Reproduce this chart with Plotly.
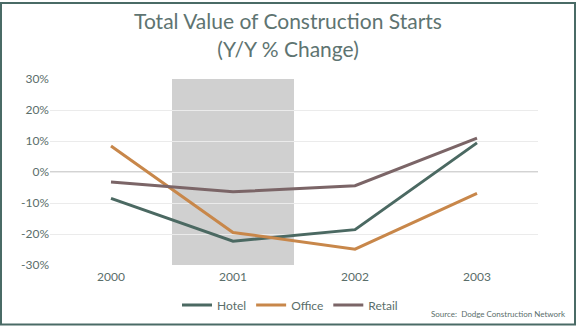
import plotly.graph_objects as go

years = ["2000", "2001", "2002", "2003"]
hotel = [-8.5, -22.3, -18.6, 9.4]
office = [8.4, -19.5, -24.9, -6.9]
retail = [-3.2, -6.4, -4.4, 10.9]
ytick_vals = [-30, -20, -10, 0, 10, 20, 30]
ytick_text = ["-30%", "-20%", "-10%", "0%", "10%", "20%", "30%"]
recession_start, recession_end = 0.5, 1.5

W, H = 576, 332
ml, mr, mt, mb = 50, 38, 79, 62
pw, ph = W - ml - mr, H - mt - mb

fig = go.Figure()
series = [("Hotel", hotel, "#4B6962"), ("Office", office, "#C8874A"), ("Retail", retail, "#7B6567")]
for name, vals, col in series:
    fig.add_trace(go.Scatter(x=years, y=vals, mode="lines", name=name,
                             line=dict(color=col, width=3)))

fig.add_shape(type="rect", xref="x", yref="y", x0=recession_start, x1=recession_end,
              y0=-30, y1=30, fillcolor="#D0D0D0", line=dict(width=0), layer="below")
fig.add_shape(type="line", xref="paper", yref="y", x0=0, x1=1, y0=0, y1=0,
              line=dict(color="#A6A6A6", width=1), layer="below")
# outer border
fig.add_shape(type="rect", xref="paper", yref="paper",
              x0=-(ml - 1) / pw, x1=1 + (mr - 1) / pw,
              y0=-(mb - 1) / ph, y1=1 + (mt - 1) / ph,
              line=dict(color="#4A6B66", width=2), fillcolor="rgba(0,0,0,0)")

fig.update_layout(
    width=W, height=H,
    margin=dict(l=ml, r=mr, t=mt, b=mb),
    paper_bgcolor="white", plot_bgcolor="white",
    font=dict(family="Lato, Open Sans, sans-serif", color="#5A6E6A", size=12),
    title=dict(text="Total Value of Construction Starts<br>(Y/Y % Change)",
               x=0.5, xanchor="center", y=0.912, yanchor="top",
               font=dict(size=21, color="#5E7471")),
    showlegend=True,
    legend=dict(orientation="h", x=(290 - ml) / pw, xanchor="center",
                y=-(311 - mt - ph) / ph, yanchor="middle",
                font=dict(size=12, color="#5A6E6A"), itemwidth=30),
    xaxis=dict(type="category", range=[-0.5, 3.5], showgrid=False, zeroline=False,
               showline=False, ticks="", ticklabelstandoff=3,
               tickfont=dict(size=12, color="#5A6E6A")),
    yaxis=dict(range=[-30, 30], tickvals=ytick_vals, ticktext=ytick_text,
               showgrid=True, gridcolor="#EBEBEB", gridwidth=1, zeroline=False,
               ticks="", tickfont=dict(size=12, color="#5A6E6A")),
)
fig.add_annotation(text="Source:  Dodge Construction Network", xref="paper", yref="paper",
                   x=1 + (mr - 8) / pw, y=-(320 - mt - ph) / ph, xanchor="right",
                   yanchor="middle", showarrow=False,
                   font=dict(size=8, color="#5A6E6A"))

fig.write_html("out.html")
